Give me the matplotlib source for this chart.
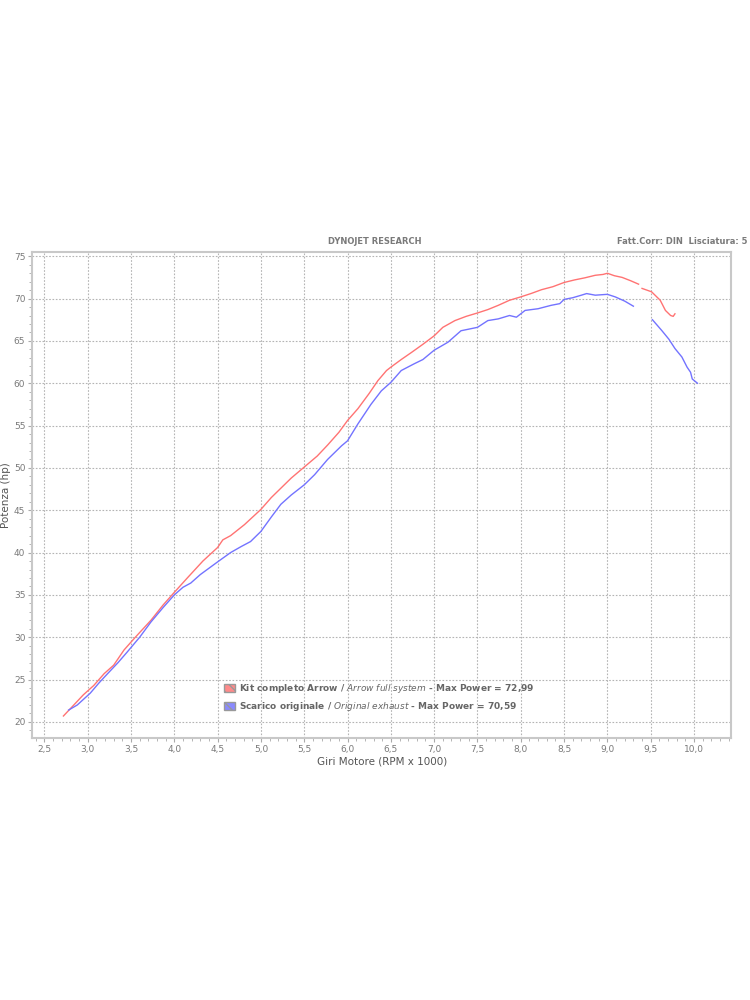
import numpy as np
import matplotlib.pyplot as plt
from matplotlib.patches import Patch
from matplotlib.ticker import MultipleLocator, FuncFormatter

plt.rcParams['mathtext.fontset'] = 'dejavusans'

# Kit completo Arrow (two segments, gap near 9.4k)
kit_rpm_a = [2.72, 2.84, 2.95, 3.07, 3.19, 3.30, 3.42, 3.55, 3.73, 3.87, 4.00, 4.15,
             4.33, 4.50, 4.56, 4.65, 4.81, 5.00, 5.12, 5.23, 5.35, 5.50, 5.65, 5.77,
             5.90, 6.00, 6.12, 6.25, 6.35, 6.45, 6.50, 6.62, 6.74, 6.87, 7.00, 7.10,
             7.24, 7.37, 7.50, 7.62, 7.74, 7.87, 8.00, 8.12, 8.24, 8.37, 8.50, 8.62,
             8.74, 8.86, 8.95, 9.00, 9.08, 9.17, 9.27, 9.36]
kit_hp_a = [20.7, 22.0, 23.2, 24.3, 25.7, 26.7, 28.5, 30.0, 32.0, 33.8, 35.3, 37.0,
            39.0, 40.6, 41.5, 42.0, 43.3, 45.1, 46.5, 47.6, 48.8, 50.1, 51.4, 52.7,
            54.2, 55.6, 57.0, 58.8, 60.3, 61.5, 61.9, 62.8, 63.65, 64.6, 65.6, 66.6,
            67.4, 67.9, 68.3, 68.7, 69.2, 69.8, 70.2, 70.6, 71.05, 71.4, 71.9, 72.2,
            72.45, 72.75, 72.85, 72.99, 72.7, 72.5, 72.1, 71.7]
kit_rpm_b = [9.40, 9.51, 9.56, 9.61, 9.67, 9.73, 9.76, 9.78]
kit_hp_b = [71.2, 70.8, 70.3, 69.8, 68.6, 68.0, 67.9, 68.2]

# Scarico originale
orig_rpm_a = [2.78, 2.88, 3.03, 3.13, 3.23, 3.35, 3.46, 3.60, 3.73, 3.87, 4.00, 4.10,
              4.19, 4.30, 4.38, 4.50, 4.65, 4.77, 4.88, 5.00, 5.12, 5.23, 5.35, 5.50,
              5.62, 5.77, 5.93, 6.00, 6.12, 6.27, 6.39, 6.50, 6.62, 6.77, 6.87, 7.00,
              7.16, 7.31, 7.50, 7.62, 7.74, 7.87, 7.95, 8.05, 8.20, 8.35, 8.45, 8.50,
              8.60, 8.70, 8.76, 8.86, 9.00, 9.09, 9.20, 9.30]
orig_hp_a = [21.4, 22.0, 23.4, 24.6, 25.7, 27.0, 28.3, 30.0, 31.8, 33.5, 35.0, 35.9,
             36.4, 37.4, 38.0, 38.9, 40.0, 40.7, 41.3, 42.5, 44.2, 45.7, 46.8, 48.0,
             49.2, 51.0, 52.6, 53.2, 55.2, 57.5, 59.1, 60.1, 61.5, 62.3, 62.8, 63.9,
             64.85, 66.2, 66.6, 67.4, 67.6, 68.0, 67.8, 68.6, 68.8, 69.2, 69.4, 69.9,
             70.1, 70.4, 70.59, 70.4, 70.5, 70.2, 69.7, 69.1]
orig_rpm_b = [9.52, 9.63, 9.71, 9.78, 9.86, 9.92, 9.96, 9.98, 10.04]
orig_hp_b = [67.5, 66.2, 65.2, 64.1, 63.1, 61.9, 61.3, 60.5, 60.0]

red = '#ff7373'
blue = '#7373ff'
grey = '#7a7a7a'

fig = plt.figure(figsize=(7.5, 10), dpi=100)
ax = fig.add_axes([0.043, 0.262, 0.932, 0.486])

ax.plot(kit_rpm_a, kit_hp_a, color=red, lw=1.0)
ax.plot(kit_rpm_b, kit_hp_b, color=red, lw=1.0)
ax.plot(orig_rpm_a, orig_hp_a, color=blue, lw=1.0)
ax.plot(orig_rpm_b, orig_hp_b, color=blue, lw=1.0)

ax.set_xlim(2.36, 10.43)
ax.set_ylim(18.1, 75.5)
ax.xaxis.set_major_locator(MultipleLocator(0.5))
ax.xaxis.set_minor_locator(MultipleLocator(0.1))
ax.yaxis.set_major_locator(MultipleLocator(5))
ax.yaxis.set_minor_locator(MultipleLocator(1))
ax.xaxis.set_major_formatter(FuncFormatter(lambda v, p: f'{v:.1f}'.replace('.', ',')))
ax.yaxis.set_major_formatter(FuncFormatter(lambda v, p: f'{v:.0f}'))
ax.tick_params(which='both', colors='#aaaaaa', labelcolor=grey, labelsize=6.5, direction='out')
ax.tick_params(which='major', length=3, pad=2)
ax.tick_params(which='minor', length=2)
ax.grid(True, which='major', color='#b4b4b4', linestyle=(0, (1.5, 1.5)), lw=0.8)
for s in ax.spines.values():
    s.set_color('#c8c8c8')
    s.set_linewidth(1.5)

ax.set_xlabel('Giri Motore (RPM x 1000)', fontsize=7.5, color='#555555', labelpad=2)
ax.set_ylabel('Potenza (hp)', fontsize=7.5, color='#555555')
ax.yaxis.set_label_coords(-0.031, 0.5)

fig.text(0.5, 0.759, 'DYNOJET RESEARCH', ha='center', va='center', fontsize=6,
         fontweight='bold', color=grey)
fig.text(0.997, 0.759, 'Fatt.Corr: DIN  Lisciatura: 5', ha='right', va='center',
         fontsize=6, fontweight='bold', color=grey)

handles = [Patch(facecolor='#ff8a8a', edgecolor='#999999', hatch='\\\\\\'),
           Patch(facecolor='#8a8aff', edgecolor='#999999', hatch='\\\\\\')]
labels = [r'Kit completo Arrow / $\mathit{Arrow\ full\ system}$ - Max Power = 72,99',
          r'Scarico originale / $\mathit{Original\ exhaust}$ - Max Power = 70,59']
leg = ax.legend(handles, labels, loc='lower left', bbox_to_anchor=(0.262, 0.035),
                frameon=False, fontsize=6.5, handlelength=1.3, handleheight=1.0,
                handletextpad=0.4, labelspacing=0.5)
for t in leg.get_texts():
    t.set_color('#666666')
    t.set_fontweight('bold')

fig.savefig('out.png', dpi=100)
